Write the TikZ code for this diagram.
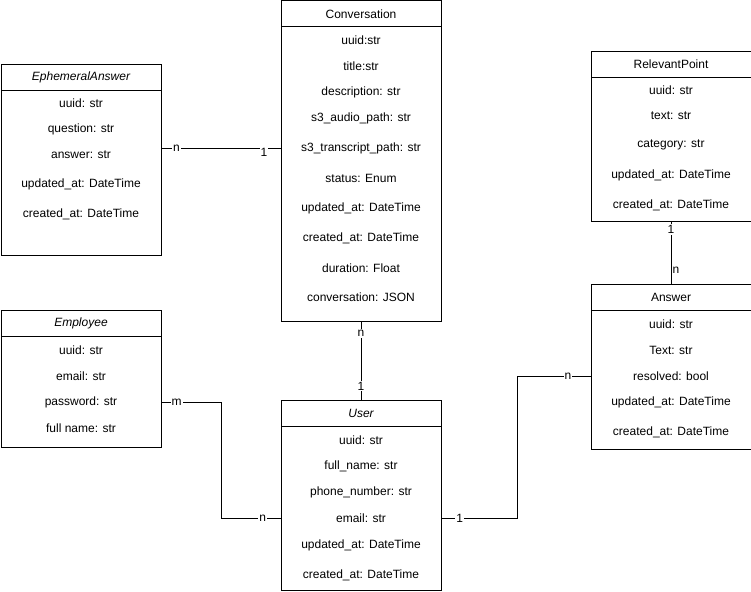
\documentclass[tikz,border=0pt]{standalone}
\usepackage{fontspec}
\setmainfont{Liberation Sans}
\tikzset{
  basic/.style  = {draw, rectangle, minimum width=160pt, inner sep=0pt, anchor=north west},
  entity/.style = {basic},
  header/.style = {basic, minimum height=26pt, font=\fontsize{12}{14}\selectfont},
  attr/.style   = {inner sep=1pt, font=\fontsize{12}{14}\selectfont},
  card/.style   = {fill=white, inner sep=1pt, font=\fontsize{12}{14}\selectfont}
}

\begin{document}
\begin{tikzpicture}[x=1pt, y=-1pt, line width=1pt]
\useasboundingbox (0,0) rectangle (751,591);

% entity boxes, header on top, attributes by offset from the top edge
\node[entity, minimum height=320pt] (cv)  at (280.5,0.5) {};
\node[header] (cvh) at (cv.north west) {Conversation};
\foreach \dy/\txt [count=\i] in {40/uuid:str, 66/title:str, 92/description: str,
    118/s3\_audio\_path: str, 148/s3\_transcript\_path: str, 178/status: Enum,
    208/updated\_at: DateTime, 238/created\_at: DateTime, 268/duration: Float,
    297/conversation: JSON}
  \node[attr] (cv\i) at ([yshift=-\dy pt]cv.north) {\txt};

\node[entity, minimum height=191pt] (ea)  at (0.5,64) {};
\node[header] (eah) at (ea.north west) {\itshape EphemeralAnswer};
\foreach \dy/\txt [count=\i] in {39/uuid: str, 65/question: str, 91/answer: str,
    120/updated\_at: DateTime, 150/created\_at: DateTime}
  \node[attr] (ea\i) at ([yshift=-\dy pt]ea.north) {\txt};

\node[entity, minimum height=170pt] (rp)  at (590.5,51) {};
\node[header] (rph) at (rp.north west) {RelevantPoint};
\foreach \dy/\txt [count=\i] in {39/uuid: str, 65/text: str, 94/category: str,
    124/updated\_at: DateTime, 154/created\_at: DateTime}
  \node[attr] (rp\i) at ([yshift=-\dy pt]rp.north) {\txt};

\node[entity, minimum height=137pt] (emp) at (0.5,310) {};
\node[header] (emph) at (emp.north west) {\itshape Employee};
\foreach \dy/\txt [count=\i] in {40/uuid: str, 66/email: str, 92/password: str,
    118/full name: str}
  \node[attr] (emp\i) at ([yshift=-\dy pt]emp.north) {\txt};

\node[entity, minimum height=190pt] (us)  at (280.5,400) {};
\node[header] (ush) at (us.north west) {\itshape User};
\foreach \dy/\txt [count=\i] in {40/uuid: str, 66/full\_name: str, 92/phone\_number: str,
    118/email: str, 145/updated\_at: DateTime, 175/created\_at: DateTime}
  \node[attr] (us\i) at ([yshift=-\dy pt]us.north) {\txt};

\node[entity, minimum height=165pt] (ans) at (590.5,284) {};
\node[header] (ansh) at (ans.north west) {Answer};
\foreach \dy/\txt [count=\i] in {40/uuid: str, 66/Text: str, 92/resolved: bool,
    118/updated\_at: DateTime, 148/created\_at: DateTime}
  \node[attr] (ans\i) at ([yshift=-\dy pt]ans.north) {\txt};

% relations
\draw (ea.east |- cv5) -- node[card, pos=0.125] {n}
  node[card, pos=0.86, yshift=-4pt] {1} (cv.west |- cv5);
\draw (cv.south) -- node[card, pos=0.15] {n} node[card, pos=0.82] {1} (us.north);
\draw (rp.south) -- node[card, pos=0.12] {1}
  node[attr, pos=0.78, anchor=west] {n} (ans.north);
\draw (emp.east |- emp3) -- node[card, pos=0.25] {m} ++(60,0)
  |- node[card, pos=0.85] {n} (us.west |- us4);
\draw (us.east |- us4) -- node[card, pos=0.24] {1} ++(76,0)
  |- node[card, pos=0.845] {n} (ans.west |- ans3);

\end{tikzpicture}
\end{document}
